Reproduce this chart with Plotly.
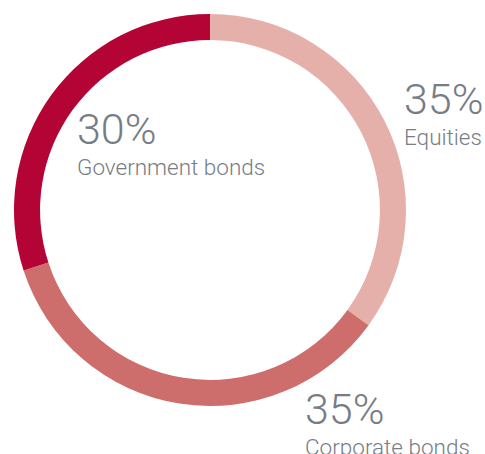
import plotly.graph_objects as go

categories = ["Equities", "Corporate bonds", "Government bonds"]
values = [35, 35, 30]
pct_labels = ["35%", "35%", "30%"]
colors = ["#E5B0AA", "#CD6E6D", "#B40335"]

W, H = 485, 454
fig = go.Figure(go.Pie(
    labels=categories,
    values=values,
    hole=0.867,
    sort=False,
    direction="clockwise",
    rotation=0,
    textinfo="none",
    hoverinfo="label+percent",
    marker=dict(colors=colors, line=dict(width=0)),
    domain=dict(x=[14 / W, 406 / W], y=[1 - 406 / H, 1 - 14 / H]),
    showlegend=False,
))

# label positions (pixels, left x, top y of big number box)
pos = [(402, 72), (303, 382), (75, 102)]
gray = "#767D85"
for (x, y), p, c in zip(pos, pct_labels, categories):
    fig.add_annotation(x=x / W, y=1 - y / H, xref="paper", yref="paper",
                       xanchor="left", yanchor="top", text=p, showarrow=False,
                       font=dict(family="Roboto", size=43, color=gray, weight=300))
    fig.add_annotation(x=x / W, y=1 - (y + 50) / H, xref="paper", yref="paper",
                       xanchor="left", yanchor="top", text=c, showarrow=False,
                       font=dict(family="Roboto", size=22.5, color=gray, weight=300))

fig.update_layout(width=W, height=H, margin=dict(l=0, r=0, t=0, b=0),
                  paper_bgcolor="white", plot_bgcolor="white")
fig.write_html("out.html", config={"displayModeBar": False},
               post_script="document.body.style.margin='0';")
